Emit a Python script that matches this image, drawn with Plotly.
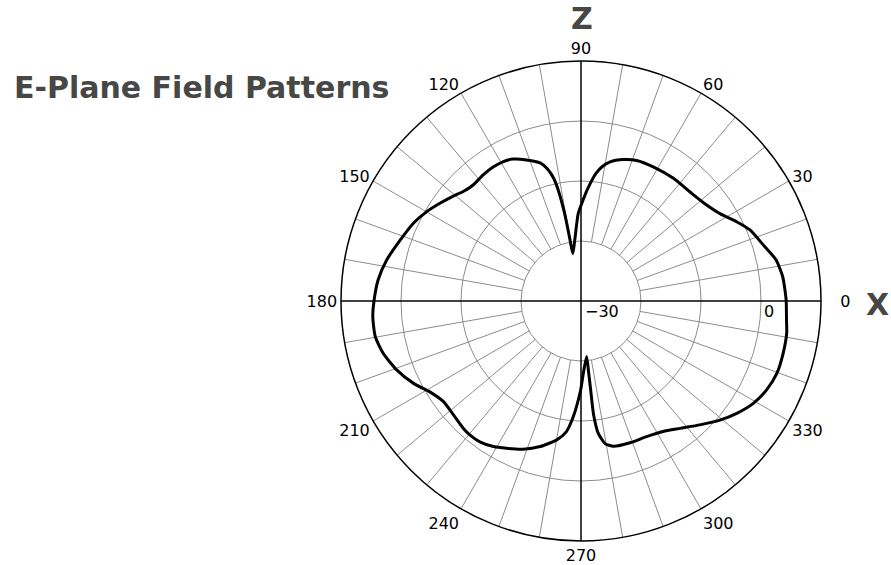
import plotly.graph_objects as go

# ---- data (angle in degrees, relative level in dB) ----
THETA_DEG = [0, 2, 7, 12, 16.6, 22.8, 27, 32, 38.6, 45, 53, 61.7, 68.4, 73.4, 78.2, 81, 83.3,
             86.5, 89, 91.8, 95.6, 99.8, 100.2, 100.6, 101.6, 102.6, 104, 106.5, 111.1, 115.5,
             119.1, 123.1, 127.8, 132.9, 137.1, 140.6, 145.3, 149.9, 155.1, 161.4, 168.1, 174.1,
             180, 184.3, 189.8, 194.8, 200.5, 206.2, 211, 216.2, 221.8, 227.3, 230.4, 234.3, 239,
             243.2, 248.7, 254.3, 260.1, 263.5, 266.2, 269.8, 271.8, 275.8, 276.1, 276.2, 276.3,
             277.4, 279.6, 282.6, 289.1, 295.8, 302.2, 307.9, 313.8, 319.4, 324.2, 329.3, 334.4,
             339.7, 345.5, 351.1, 354.7, 360]
GAIN_DB = [4.2, 4.1, 3.85, 3.2, 1.9, 0.55, -0.9, -2.6, -3.8, -4.3, -4.4, -4.6, -4.8, -5.4, -6.3, -7.3, -8.6,
           -11.2, -13.3, -15.4, -19.6, -22.0, -19.5, -15.2, -11.1, -9.0, -7.5, -6.0, -4.8, -3.8,
           -3.4, -3.3, -3.4, -3.6, -3.2, -2.45, -1.4, -0.3, 0.8, 1.8, 3.1, 4.0,
           4.5, 4.8, 4.8, 4.1, 2.8, 1.1, -0.6, -1.6, -1.5, -1.1, -1.0, -1.1, -1.7,
           -2.5, -3.5, -4.8, -6.5, -8.0, -10.7, -15.2, -17.9, -20.7, -17.9, -15.1, -11.0,
           -7.8, -5.9, -5.2, -5.0, -4.9, -4.3, -3.1, -1.4, 0.5, 2.0, 3.4, 4.3,
           4.8, 4.8, 4.7, 4.4, 4.2]

RADIAL_RANGE = [-30, 10]
RADIAL_GRID = [-20, -10, 0]
ANGLE_TICKS = [0, 30, 60, 90, 120, 150, 180, 210, 240, 270, 300, 330]
ANGLE_LABELS = ["\u00a0\u00a0\u00a00", "30", "60", "90", "120", "150", "180", "210", "240", "270", "300", "330"]
SPOKE_STEP = 10
SPOKE_FROM, SPOKE_TO = -20, 10

TITLE = "E-Plane Field Patterns"

W, H = 891, 565
CX, CY, R = 581, 301, 240  # pixel geometry of the polar circle


def px(x):
    return x / W


def py(y):
    return 1 - y / H


dom_x = [(CX - R) / W, (CX + R) / W]
dom_y = [1 - (CY + R) / H, 1 - (CY - R) / H]

# spokes (grid), skipping the main axes which are drawn as black cross lines
sp_r, sp_t = [], []
for a in range(0, 360, SPOKE_STEP):
    if a % 90 == 0:
        continue
    sp_r += [SPOKE_FROM, SPOKE_TO, None]
    sp_t += [a, a, None]

fig = go.Figure()
fig.add_trace(go.Scatterpolar(r=sp_r, theta=sp_t, mode="lines",
                              line=dict(color="#8c8c8c", width=1),
                              hoverinfo="skip", showlegend=False))
fig.add_trace(go.Scatterpolar(r=GAIN_DB, theta=THETA_DEG, mode="lines",
                              line=dict(color="black", width=3, shape="spline", smoothing=0.6),
                              showlegend=False))

label_font = dict(family="DejaVu Sans", size=16, color="black")
big_font = dict(family="DejaVu Sans", size=30, color="#474745", weight="bold")

fig.update_layout(
    width=W, height=H,
    margin=dict(l=0, r=0, t=0, b=0),
    paper_bgcolor="white",
    showlegend=False,
    polar=dict(
        domain=dict(x=dom_x, y=dom_y),
        bgcolor="white",
        radialaxis=dict(range=RADIAL_RANGE, tickvals=RADIAL_GRID, showticklabels=False,
                        ticks="", showline=False, gridcolor="#8c8c8c", gridwidth=1, angle=0),
        angularaxis=dict(rotation=0, direction="counterclockwise", tickvals=ANGLE_TICKS,
                         ticktext=ANGLE_LABELS, showgrid=False, ticks="", showline=True,
                         linecolor="black", linewidth=1.5, tickfont=label_font),
    ),
    shapes=[
        dict(type="line", xref="paper", yref="paper", x0=(CX - R) / W, x1=(CX + R) / W,
             y0=1 - CY / H, y1=1 - CY / H, line=dict(color="black", width=1.5)),
        dict(type="line", xref="paper", yref="paper", x0=CX / W, x1=CX / W,
             y0=1 - (CY + R) / H, y1=1 - (CY - R) / H, line=dict(color="black", width=1.5)),
    ],
    annotations=[
        dict(text=TITLE, x=px(12), y=py(87), xref="paper", yref="paper", xanchor="left",
             yanchor="middle", showarrow=False, font=big_font),
        dict(text="Z", x=px(582), y=py(19), xref="paper", yref="paper", xanchor="center",
             yanchor="middle", showarrow=False, font=big_font),
        dict(text="X", x=px(877), y=py(304), xref="paper", yref="paper", xanchor="center",
             yanchor="middle", showarrow=False, font=big_font),
        dict(text="\u221230", x=px(583), y=py(311), xref="paper", yref="paper", xanchor="left",
             yanchor="middle", showarrow=False, font=label_font),
        dict(text="0", x=px(762), y=py(311), xref="paper", yref="paper", xanchor="left",
             yanchor="middle", showarrow=False, font=label_font),
    ],
)

# remove the browser's default 8px body margin so the figure fills the window exactly
fig.write_html("out.html", config={"displayModeBar": False},
               post_script="document.body.style.margin='0px';")
